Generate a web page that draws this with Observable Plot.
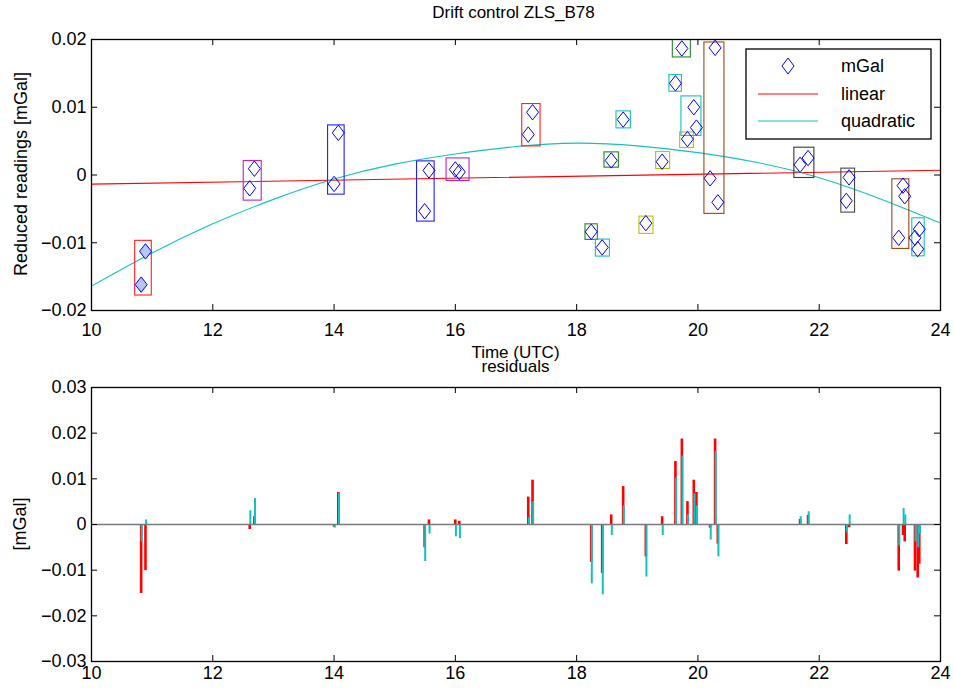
<!DOCTYPE html>
<html>
<head>
<meta charset="utf-8">
<script src="https://cdn.jsdelivr.net/npm/d3@7"></script>
<script src="https://cdn.jsdelivr.net/npm/@observablehq/plot@0.6"></script>
<style>
  html, body { margin: 0; padding: 0; background: #fff; }
  #fig { position: relative; width: 954px; height: 690px; font-family: "Liberation Sans", Arial, Helvetica, sans-serif; color: #000; }
  #fig > div.plot { position: absolute; left: 0; }
  .lbl { position: absolute; white-space: nowrap; line-height: 1; }
</style>
</head>
<body>
<div id="fig"></div>
<script>
// ---------- data ----------
// observation times (UTC hours) and reduced readings (mGal)
const times = [10.819, 10.890, 12.609, 12.686, 14.000, 14.070, 15.493, 15.565, 15.999, 16.065,
  17.202, 17.273, 18.240, 18.421, 18.570, 18.767, 19.141, 19.410, 19.629, 19.735,
  19.827, 19.932, 19.975, 20.201, 20.283, 20.328, 21.684, 21.816, 22.447, 22.492,
  23.311, 23.382, 23.410, 23.579, 23.624, 23.650];
const readings = [-0.01618, -0.01128, -0.00197, 0.00093, -0.00132, 0.00622, -0.00535, 0.00068, 0.00082, 0.00044,
  0.00597, 0.00926, -0.00839, -0.01069, 0.00215, 0.00818, -0.00711, 0.00196, 0.01353, 0.01868,
  0.00530, 0.01000, 0.00700, -0.00050, 0.01877, -0.00403, 0.00151, 0.00250, -0.00382, -0.00035,
  -0.00927, -0.00157, -0.00314, -0.00927, -0.01094, -0.00800];
// station group of each reading
const groupOf = [0, 0, 1, 1, 2, 2, 3, 3, 4, 4,
  5, 5, 6, 7, 8, 9, 10, 11, 12, 13,
  14, 15, 15, 16, 16, 16, 17, 17, 18, 18,
  19, 19, 19, 20, 20, 20];
// residuals of the linear and quadratic drift fits (mGal)
const residLinear = [-0.0151, -0.0101, -0.0011, 0.0017, -0.0006, 0.0070, -0.0051, 0.0010, 0.0010, 0.0007,
  0.0060, 0.0097, -0.0083, -0.0107, 0.0021, 0.0083, -0.0071, 0.0017, 0.0138, 0.0187,
  0.0050, 0.0097, 0.0070, -0.0008, 0.0187, -0.0043, 0.0011, 0.0020, -0.0044, -0.0007,
  -0.0102, -0.0024, -0.0038, -0.0102, -0.0117, -0.0087];
const residQuadratic = [-0.0038, 0.0010, 0.0030, 0.0057, -0.0008, 0.0068, -0.0081, -0.0021, -0.0027, -0.0031,
  0.0015, 0.0050, -0.0130, -0.0154, -0.0024, 0.0041, -0.0115, -0.0024, 0.0101, 0.0150,
  0.0021, 0.0067, 0.0041, -0.0034, 0.0160, -0.0071, 0.0017, 0.0028, -0.0018, 0.0021,
  -0.0047, 0.0035, 0.0021, -0.0038, -0.0051, -0.0021];
// station boxes (time range, reading range)
const boxT0 = [10.720, 12.510, 13.901, 15.368, 15.855, 17.103, 18.146, 18.317, 18.459, 18.657, 19.036,
  19.311, 19.530, 19.586, 19.707, 19.728, 20.107, 21.590, 22.365, 23.206, 23.535];
const boxT1 = [10.994, 12.807, 14.174, 15.658, 16.234, 17.405, 18.350, 18.548, 18.696, 18.894, 19.267,
  19.541, 19.735, 19.883, 19.933, 20.058, 20.437, 21.920, 22.591, 23.486, 23.739];
const boxV0 = [-0.01779, -0.00378, -0.00290, -0.00688, -0.00088, 0.00422, -0.00958, -0.01204, 0.00108, 0.00688, -0.00869,
  0.00089, 0.01229, 0.01735, 0.00399, 0.00576, -0.00574, -0.00044, -0.00555, -0.01091, -0.01200];
const boxV1 = [-0.00972, 0.00207, 0.00732, 0.00201, 0.00245, 0.01047, -0.00728, -0.00953, 0.00334, 0.00939, -0.00614,
  0.00340, 0.01475, 0.02010, 0.00629, 0.01160, 0.01956, 0.00403, 0.00094, -0.00064, -0.00639];
// drift fit curves
const linearT = [10, 24];
const linearV = [-0.00135, 0.00070];
const quadT = [10, 11, 12, 13, 14, 15, 16, 17, 18, 19, 20, 21, 22, 23, 24];
const quadV = [-0.0164, -0.0115, -0.0072, -0.0036, -0.0006, 0.0016, 0.0031, 0.0042, 0.0047, 0.0043, 0.0033, 0.0018, -0.0004, -0.0035, -0.0071];
// ticks
const xTicks = [10, 12, 14, 16, 18, 20, 22, 24];
const topYTicks = [-0.02, -0.01, 0, 0.01, 0.02];
const botYTicks = [-0.03, -0.02, -0.01, 0, 0.01, 0.02, 0.03];
const seriesNames = ["mGal", "linear", "quadratic"];

// ---------- styles ----------
const RED = "#ff0000", CYAN = "#14c0c0", BLUE = "#0000ff";
const boxPalette = ["#ff2020", "#c020c8", "#2020ff", "#2020ff", "#c020c8", "#ff2020", "#208a20", "#14c0c0", "#208a20",
  "#14c0c0", "#c0c000", "#c0c000", "#14c0c0", "#208a20", "#c0c000", "#14c0c0", "#9c4818", "#383838", "#484848",
  "#9c4818", "#14c0c0"];
const FONT = '"Liberation Sans", Arial, Helvetica, sans-serif';
const fmt = d => d === 0 ? "0" : (d < 0 ? "\u2212" : "") + Math.abs(d).toFixed(2);

const points = times.map((t, i) => ({t, v: readings[i], g: groupOf[i], rl: residLinear[i], rq: residQuadratic[i]}));
const boxes = boxT0.map((t0, i) => ({t0, t1: boxT1[i], v0: boxV0[i], v1: boxV1[i], c: boxPalette[i]}));
const linPts = linearT.map((t, i) => ({t, v: linearV[i]}));
const quadPts = quadT.map((t, i) => ({t, v: quadV[i]}));

const tallDiamond = {
  draw(ctx, size) {
    const r = Math.sqrt(size / Math.PI), w = r * 0.78;
    ctx.moveTo(0, -r); ctx.lineTo(w, 0); ctx.lineTo(0, r); ctx.lineTo(-w, 0); ctx.closePath();
  }
};

const W = 954, ML = 91, MR = 14;
function frameMarks(plotH, plotW, yTicks, xPad) {
  return [
    Plot.tickX(xTicks, {x: d => d, insetTop: plotH - 6, stroke: "#000", strokeWidth: 1}),
    Plot.tickX(xTicks, {x: d => d, insetBottom: plotH - 6, stroke: "#000", strokeWidth: 1}),
    Plot.tickY(yTicks, {y: d => d, insetRight: plotW - 6, stroke: "#000", strokeWidth: 1}),
    Plot.tickY(yTicks, {y: d => d, insetLeft: plotW - 6, stroke: "#000", strokeWidth: 1}),
    Plot.axisX(xTicks, {anchor: "bottom", tickSize: 0, tickPadding: xPad, tickFormat: d => String(d), label: null, fontSize: 18}),
    Plot.axisY(yTicks, {anchor: "left", tickSize: 0, tickPadding: 5, tickFormat: fmt, label: null, fontSize: 18}),
    Plot.frame({stroke: "#000", strokeWidth: 1.3})
  ];
}

// ---------- top plot ----------
const topH = 345, topMT = 39, topMB = 35;
const topChart = Plot.plot({
  width: W, height: topH, marginTop: topMT, marginBottom: topMB, marginLeft: ML, marginRight: MR,
  style: {fontFamily: FONT, fontSize: "18px", color: "#000", background: "transparent", overflow: "visible"},
  x: {domain: [10, 24]},
  y: {domain: [-0.02, 0.02]},
  marks: [
    Plot.line(linPts, {x: "t", y: "v", stroke: RED, strokeWidth: 1.1}),
    Plot.line(quadPts, {x: "t", y: "v", stroke: CYAN, strokeWidth: 1.1, curve: "natural"}),
    Plot.rect(boxes, {x1: "t0", x2: "t1", y1: "v0", y2: "v1", fill: "none", stroke: "c", strokeWidth: 1.1, clip: true}),
    Plot.dot(points, {x: "t", y: "v", symbol: tallDiamond, r: 7.7, stroke: BLUE, strokeWidth: 1,
      fill: d => d.g === 0 ? "#b8c6f4" : "none"}),
    ...frameMarks(topH - topMT - topMB, W - ML - MR, topYTicks, 13)
  ]
});

// ---------- bottom plot ----------
const botH = 345, botMT = 42, botMB = 29;
const bottomChart = Plot.plot({
  width: W, height: botH, marginTop: botMT, marginBottom: botMB, marginLeft: ML, marginRight: MR,
  style: {fontFamily: FONT, fontSize: "18px", color: "#000", background: "transparent", overflow: "visible"},
  x: {domain: [10, 24]},
  y: {domain: [-0.03, 0.03]},
  marks: [
    Plot.ruleX(points, {x: "t", y1: 0, y2: "rl", stroke: RED, strokeWidth: 2.6}),
    Plot.ruleX(points, {x: "t", y1: 0, y2: "rq", stroke: CYAN, strokeWidth: 2, dx: 0.6}),
    Plot.ruleY([0], {stroke: "#7a7a7a", strokeWidth: 1.6}),
    ...frameMarks(botH - botMT - botMB, W - ML - MR, botYTicks, 5)
  ]
});

const fig = document.getElementById("fig");
function place(el, topPx) {
  const d = document.createElement("div");
  d.className = "plot"; d.style.top = topPx + "px"; d.appendChild(el); fig.appendChild(d);
}
place(topChart, 0);
place(bottomChart, 345);

function label(text, css) {
  const d = document.createElement("div");
  d.className = "lbl"; d.textContent = text;
  Object.assign(d.style, css);
  fig.appendChild(d);
  return d;
}
const cx = (ML + (W - MR)) / 2;
label("Drift control ZLS_B78", {left: (cx - 2) + "px", top: "4px", fontSize: "17px", transform: "translateX(-50%)"});
label("Time (UTC)", {left: cx + "px", top: "344px", fontSize: "17px", transform: "translateX(-50%)"});
label("residuals", {left: cx + "px", top: "358px", fontSize: "17px", transform: "translateX(-50%)"});
label("Reduced readings [mGal]", {left: "21px", top: "174px", fontSize: "18px", transform: "translate(-50%,-50%) rotate(-90deg)"});
label("[mGal]", {left: "20px", top: "524px", fontSize: "18px", transform: "translate(-50%,-50%) rotate(-90deg)"});

// ---------- legend ----------
const NS = "http://www.w3.org/2000/svg";
const leg = document.createElementNS(NS, "svg");
leg.setAttribute("width", 188); leg.setAttribute("height", 93);
Object.assign(leg.style, {position: "absolute", left: "745px", top: "48px"});
leg.innerHTML = `
  <rect x="1" y="1" width="185" height="90" fill="#fff" stroke="#000" stroke-width="1.3"/>
  <path d="M43,10 L49,18 L43,26 L37,18 Z" fill="none" stroke="${BLUE}" stroke-width="1"/>
  <line x1="13" x2="73" y1="46" y2="46" stroke="${RED}" stroke-width="1.1"/>
  <line x1="13" x2="73" y1="73" y2="73" stroke="${CYAN}" stroke-width="1.1"/>`;
seriesNames.forEach((name, i) => {
  const t = document.createElementNS(NS, "text");
  t.setAttribute("x", 96); t.setAttribute("y", 18 + i * 27.5);
  t.setAttribute("dominant-baseline", "central");
  t.setAttribute("font-family", FONT); t.setAttribute("font-size", "18");
  t.textContent = name;
  leg.appendChild(t);
});
fig.appendChild(leg);
</script>
</body>
</html>
